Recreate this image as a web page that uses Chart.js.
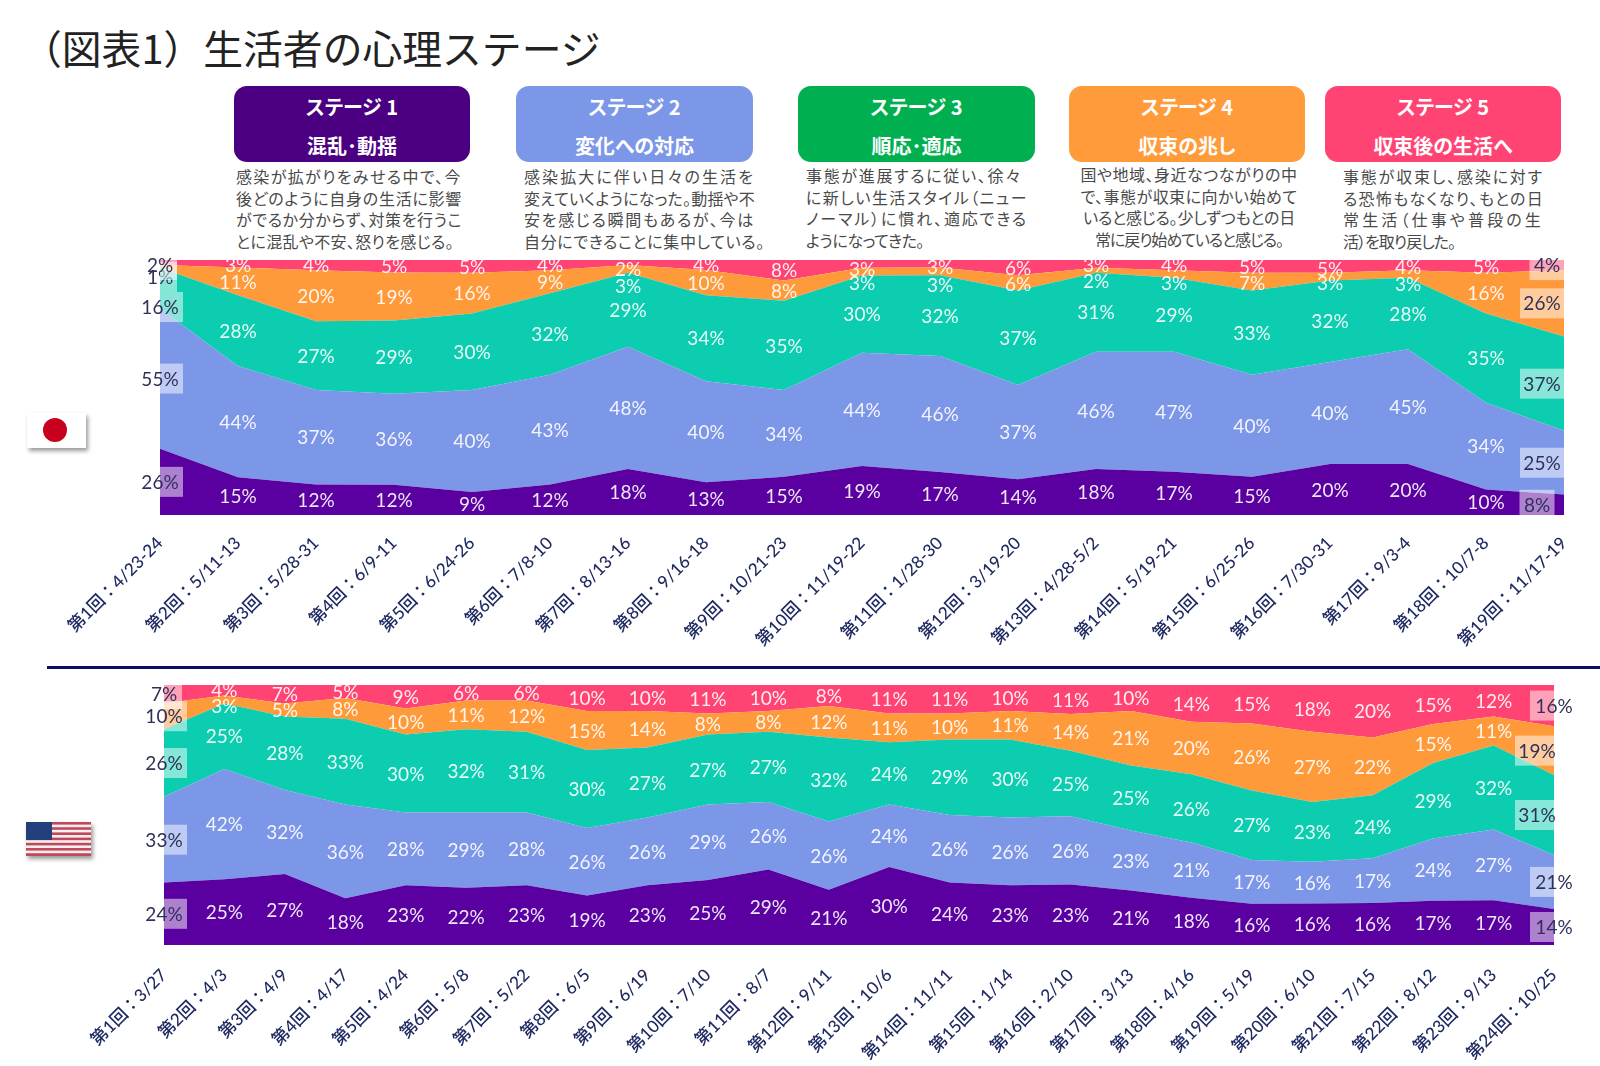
<!DOCTYPE html>
<html lang="ja">
<head>
<meta charset="utf-8">
<title>生活者の心理ステージ</title>
<script src="https://cdn.jsdelivr.net/npm/chart.js@4/dist/chart.umd.min.js"></script>
<style>
  html,body{margin:0;padding:0;background:#fff;}
  #page{position:relative;width:1600px;height:1066px;overflow:hidden;background:#fff;filter:blur(.55px);
    font-family:"Noto Sans CJK JP","Noto Sans",sans-serif;}
  canvas{position:absolute;left:0;}
  .title{position:absolute;left:22px;top:19px;font-size:39.8px;line-height:56px;color:#222;font-weight:400;white-space:nowrap;}
  .banner{position:absolute;top:86px;height:76px;border-radius:13px;color:#fff;font-weight:700;text-align:center;overflow:hidden;font-feature-settings:"palt";}
  .banner div{position:absolute;left:0;right:0;font-size:20px;line-height:26px;white-space:nowrap;}
  .banner .l1{top:8px}.banner .l2{top:47px}
  .desc{position:absolute;font-size:16px;line-height:21.5px;color:#4a4a4a;font-feature-settings:"palt";}
  .desc div{white-space:nowrap;}
  .desc span{display:inline-block;}
  .rule{position:absolute;left:47px;right:0;top:666px;height:3px;background:#0b1160;}
  .flag{position:absolute;filter:drop-shadow(2px 3px 2px rgba(0,0,0,.4));}
</style>
</head>
<body>
<div id="page">
  <div class="title">（図表1）生活者の心理ステージ</div>

  <div class="banner" style="left:234px;width:236px;background:#4b0082"><div class="l1">ステージ 1</div><div class="l2">混乱･動揺</div></div>
  <div class="banner" style="left:516px;width:237px;background:#7c96e8"><div class="l1">ステージ 2</div><div class="l2">変化への対応</div></div>
  <div class="banner" style="left:798px;width:237px;background:#00b050"><div class="l1">ステージ 3</div><div class="l2">順応･適応</div></div>
  <div class="banner" style="left:1069px;width:236px;background:#ff9b3b"><div class="l1">ステージ 4</div><div class="l2">収束の兆し</div></div>
  <div class="banner" style="left:1325px;width:236px;background:#ff4473"><div class="l1">ステージ 5</div><div class="l2">収束後の生活へ</div></div>

  <div class="desc" style="left:236px;top:166px">
    <div><span data-w="226">感染が拡がりをみせる中で、今</span></div>
    <div><span data-w="226">後どのように自身の生活に影響</span></div>
    <div><span data-w="226">がでるか分からず、対策を行うこ</span></div>
    <div><span data-w="218">とに混乱や不安、怒りを感じる。</span></div>
  </div>
  <div class="desc" style="left:524px;top:166px">
    <div><span data-w="231">感染拡大に伴い日々の生活を</span></div>
    <div><span data-w="231">変えていくようになった。動揺や不</span></div>
    <div><span data-w="231">安を感じる瞬間もあるが、今は</span></div>
    <div><span data-w="241">自分にできることに集中している。</span></div>
  </div>
  <div class="desc" style="left:806px;top:165px">
    <div><span data-w="216">事態が進展するに従い、徐々</span></div>
    <div><span data-w="222">に新しい生活スタイル（ニュー</span></div>
    <div><span data-w="222">ノーマル）に慣れ、適応できる</span></div>
    <div><span data-w="118">ようになってきた。</span></div>
  </div>
  <div class="desc" style="left:1069px;top:164px;width:240px;text-align:center">
    <div><span data-w="217">国や地域、身近なつながりの中</span></div>
    <div><span data-w="217">で、事態が収束に向かい始めて</span></div>
    <div><span data-w="212">いると感じる。少しずつもとの日</span></div>
    <div><span data-w="188">常に戻り始めていると感じる。</span></div>
  </div>
  <div class="desc" style="left:1343px;top:166px">
    <div><span data-w="201">事態が収束し、感染に対す</span></div>
    <div><span data-w="201">る恐怖もなくなり、もとの日</span></div>
    <div><span data-w="201">常生活（仕事や普段の生</span></div>
    <div><span data-w="112">活）を取り戻した。</span></div>
  </div>

  <svg class="flag" style="left:27px;top:413px" width="59" height="35" viewBox="0 0 59 35">
    <rect width="59" height="35" fill="#fff"/><circle cx="28" cy="17" r="12" fill="#c8001e"/>
  </svg>
  <svg class="flag" style="left:26px;top:822px" width="65" height="34" viewBox="0 0 65 34">
    <rect width="65" height="34" fill="#f4f0f2"/>
    <g fill="#c2485c">
      <rect y="0" width="65" height="2.6"/><rect y="5.2" width="65" height="2.6"/><rect y="10.4" width="65" height="2.6"/>
      <rect y="15.6" width="65" height="2.6"/><rect y="20.8" width="65" height="2.6"/><rect y="26" width="65" height="2.6"/><rect y="31.2" width="65" height="2.8"/>
    </g>
    <rect width="26" height="18" fill="#24407c"/>
  </svg>

  <div class="rule"></div>
  <canvas id="jp"></canvas>
  <canvas id="us"></canvas>
</div>

<script>
// ---- Japan (survey rounds) : stage shares in percent as labelled ----
const jpTicks = ['第1回：4/23-24','第2回：5/11-13','第3回：5/28-31','第4回：6/9-11','第5回：6/24-26','第6回：7/8-10','第7回：8/13-16','第8回：9/16-18','第9回：10/21-23','第10回：11/19-22','第11回：1/28-30','第12回：3/19-20','第13回：4/28-5/2','第14回：5/19-21','第15回：6/25-26','第16回：7/30-31','第17回：9/3-4','第18回：10/7-8','第19回：11/17-19'];
const jpStage1 = [26,15,12,12,9,12,18,13,15,19,17,14,18,17,15,20,20,10,8];
const jpStage2 = [55,44,37,36,40,43,48,40,34,44,46,37,46,47,40,40,45,34,25];
const jpStage3 = [16,28,27,29,30,32,29,34,35,30,32,37,31,29,33,32,28,35,37];
const jpStage4 = [1,11,20,19,16,9,3,10,8,3,3,6,2,3,7,3,3,16,26];
const jpStage5 = [2,3,4,5,5,4,2,4,8,3,3,6,3,4,5,5,4,5,4];

// ---- United States ----
const usTicks = ['第1回：3/27','第2回：4/3','第3回：4/9','第4回：4/17','第5回：4/24','第6回：5/8','第7回：5/22','第8回：6/5','第9回：6/19','第10回：7/10','第11回：8/7','第12回：9/11','第13回：10/6','第14回：11/11','第15回：1/14','第16回：2/10','第17回：3/13','第18回：4/16','第19回：5/19','第20回：6/10','第21回：7/15','第22回：8/12','第23回：9/13','第24回：10/25'];
const usStage1 = [24,25,27,18,23,22,23,19,23,25,29,21,30,24,23,23,21,18,16,16,16,17,17,14];
const usStage2 = [33,42,32,36,28,29,28,26,26,29,26,26,24,26,26,26,23,21,17,16,17,24,27,21];
const usStage3 = [26,25,28,33,30,32,31,30,27,27,27,32,24,29,30,25,25,26,27,23,24,29,32,31];
const usStage4 = [10,3,5,8,10,11,12,15,14,8,8,12,11,10,11,14,21,20,26,27,22,15,11,19];
const usStage5 = [7,4,7,5,9,6,6,10,10,11,10,8,11,11,10,11,10,14,15,18,20,15,12,16];

const stageColors = ['#5b00a0','#7c96e8','#0ccdb0','#ff9a3b','#ff4473'];

// Stretch each caption line to the width it occupies in the source.
document.querySelectorAll('.desc span[data-w]').forEach(sp => {
  const chars = sp.textContent.length;
  const w = sp.getBoundingClientRect().width;
  sp.style.letterSpacing = ((+sp.dataset.w - w) / chars).toFixed(3) + 'px';
});

// Shares are rounded in the source, so each column is rescaled to fill 100 %.
function normalise(series){
  return series.map(s => s.map((v,i) => {
    const total = series.reduce((a,c) => a + c[i], 0);
    return v * 100 / total;
  }));
}

// Places the percentage labels, including the pale boxed ones on the end columns.
const bandLabels = {
  id:'bandLabels',
  afterDatasetsDraw(chart, _a, o){
    const {ctx, chartArea:ca, scales:{x,y}} = chart;
    const n = o.raw[0].length;
    ctx.save();
    ctx.font = '19px Lato';
    ctx.textAlign = 'center';
    ctx.textBaseline = 'middle';
    for(let i=0;i<n;i++){
      let base = 0;
      const ys = [];
      chart.data.datasets.forEach((d,s) => {
        const lo = y.getPixelForValue(base);
        base += d.data[i];
        const hi = y.getPixelForValue(base);
        ys[s] = (lo+hi)/2;
      });
      // narrow top bands: keep labels readable by pushing them down
      ys[4] = Math.max(ys[4], ca.top + 5);
      ys[3] = Math.max(ys[3], ys[4] + 16);
      for(let s=0;s<5;s++){
        const nudge = (o.nudge[s] && o.nudge[s][i]) || 0;
        const py = ys[s] + nudge;
        const px = x.getPixelForValue(i);
        const edge = i===0 ? o.first : (i===n-1 ? o.last : null);
        if(edge){
          const tx = px + edge.dx[s];
          const w = edge.w[s];
          const bx0 = Math.max(tx - w/2, ca.left), bx1 = Math.min(tx + w/2, ca.right);
          const by0 = Math.max(py - 15, ca.top), by1 = Math.min(py + 15, ca.bottom);
          ctx.fillStyle = 'rgba(255,255,255,.5)';
          ctx.fillRect(bx0, by0, bx1-bx0, by1-by0);
          ctx.fillStyle = '#2f3258';
          ctx.fillText(o.raw[s][i]+'%', tx, py + 1);
        } else {
          ctx.fillStyle = 'rgba(255,255,255,.9)';
          ctx.fillText(o.raw[s][i]+'%', px, py + 1);
        }
      }
    }
    ctx.restore();
  }
};

function build(id, top, height, axisHeight, padLeft, padRight, tickPad, ticks, series, labelOpts){
  const cv = document.getElementById(id);
  cv.style.top = top + 'px';
  cv.width = 1600; cv.height = height;
  const shares = normalise(series);
  new Chart(cv, {
    type:'line',
    data:{
      labels:ticks,
      datasets:shares.map((d,s) => ({
        label:'ステージ'+(s+1),
        data:d,
        backgroundColor:stageColors[s],
        borderWidth:0,
        pointRadius:0,
        tension:0,
        fill: s===0 ? 'origin' : '-1'
      }))
    },
    options:{
      responsive:false,
      animation:false,
      layout:{padding:{left:padLeft,right:padRight,top:20,bottom:0}},
      plugins:{
        legend:{display:false},
        tooltip:{enabled:false},
        bandLabels:Object.assign({raw:series}, labelOpts)
      },
      scales:{
        x:{
          offset:false,
          grid:{display:false,drawTicks:false},
          border:{display:false},
          afterFit(scale){ scale.height = axisHeight; scale.paddingLeft = 0; scale.paddingRight = 0; },
          ticks:{
            autoSkip:false,minRotation:45,maxRotation:45,padding:tickPad,
            color:'#1f2a63',
            font:{family:'Lato,"Noto Sans CJK JP"',size:17.2,weight:'500'}
          }
        },
        y:{display:false,stacked:true,min:0,max:100}
      }
    },
    plugins:[bandLabels]
  });
}

build('jp', 240, 430, 155, 160, 36, 18, jpTicks, [jpStage1,jpStage2,jpStage3,jpStage4,jpStage5], {
  first:{dx:[0,0,0,0,0], w:[46,46,46,34,34]},
  last:{dx:[-27,-22,-22,-22,-17], w:[35,44,44,44,35]},
  nudge:{2:{0:19}, 3:{0:-4, 6:5, 9:2, 10:4, 13:2, 16:3}, 4:{6:4, 9:4, 10:2, 15:2, 16:2}}
});
build('us', 665, 401, 121, 164, 46, 20, usTicks, [usStage1,usStage2,usStage3,usStage4,usStage5], {
  first:{dx:[0,0,0,0,0], w:[46,46,46,46,36]},
  last:{dx:[0,0,-17,-17,0], w:[48,48,44,44,48]},
  nudge:{}
});
</script>
</body>
</html>
